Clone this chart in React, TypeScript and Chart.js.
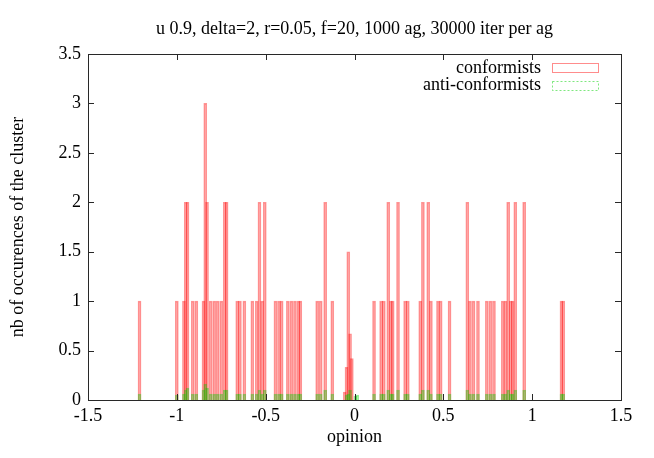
import React, { useEffect, useRef } from "react";
import { Chart, registerables } from "chart.js";

Chart.register(...registerables);

const TITLE = "u 0.9, delta=2, r=0.05, f=20, 1000 ag, 30000 iter per ag";
const X_LABEL = "opinion";
const Y_LABEL = "nb of occurences of the cluster";
const SERIES_NAMES = ["conformists", "anti-conformists"];

const conformistOpinion = [
  -1.21, -1.0, -0.96, -0.95, -0.94, -0.91, -0.89, -0.85, -0.84, -0.83, -0.81, -0.79, -0.77, -0.75,
  -0.73, -0.72, -0.66, -0.645, -0.62, -0.575, -0.55, -0.535, -0.52, -0.505, -0.445, -0.425, -0.41,
  -0.375, -0.355, -0.335, -0.315, -0.305, -0.21, -0.19, -0.165, -0.125, -0.055, -0.045, -0.035,
  -0.025, -0.015, 0.11, 0.15, 0.165, 0.19, 0.205, 0.215, 0.245, 0.285, 0.3, 0.37, 0.385, 0.415,
  0.43, 0.47, 0.485, 0.535, 0.635, 0.65, 0.67, 0.695, 0.745, 0.765, 0.785, 0.835, 0.85, 0.865,
  0.88, 0.89, 0.905, 0.955, 1.165, 1.175,
];
const conformistCount = [
  1, 1, 1, 2, 2, 1, 1, 1, 3, 2, 1, 1, 1, 1,
  2, 2, 1, 1, 1, 1, 1, 2, 1, 2, 1, 1, 1,
  1, 1, 1, 1, 1, 1, 1, 2, 1, 0.08, 0.33, 1.5,
  0.67, 0.42, 1, 1, 1, 2, 1, 1, 2, 1, 1, 1, 2, 2,
  1, 1, 1, 1, 2, 1, 1, 1, 1, 1, 1, 1, 1, 2,
  1, 1, 2, 2, 1, 1,
];

const antiOpinion = [
  -1.21, -1.0, -0.96, -0.95, -0.94, -0.91, -0.89, -0.85, -0.84, -0.83, -0.81, -0.79, -0.77, -0.75,
  -0.73, -0.72, -0.66, -0.645, -0.62, -0.575, -0.55, -0.535, -0.52, -0.505, -0.445, -0.425, -0.41,
  -0.375, -0.355, -0.335, -0.315, -0.305, -0.21, -0.19, -0.165, -0.125, -0.045, -0.035, -0.025,
  0.005, 0.015, 0.11, 0.15, 0.165, 0.19, 0.205, 0.215, 0.245, 0.285, 0.3, 0.37, 0.385, 0.415,
  0.43, 0.47, 0.485, 0.535, 0.635, 0.65, 0.67, 0.695, 0.745, 0.765, 0.785, 0.835, 0.85, 0.865,
  0.88, 0.89, 0.905, 0.955, 1.165, 1.175,
];
const antiCount = [
  0.06, 0.05, 0.06, 0.1, 0.12, 0.06, 0.06, 0.1, 0.16, 0.12, 0.06, 0.06, 0.06, 0.06,
  0.1, 0.1, 0.06, 0.06, 0.06, 0.06, 0.06, 0.1, 0.06, 0.1, 0.06, 0.06, 0.06,
  0.06, 0.06, 0.06, 0.06, 0.06, 0.06, 0.06, 0.1, 0.06, 0.05, 0.06, 0.1,
  0.04, 0.05, 0.06, 0.06, 0.06, 0.1, 0.06, 0.06, 0.1, 0.06, 0.06, 0.06, 0.1, 0.1,
  0.06, 0.06, 0.06, 0.06, 0.1, 0.06, 0.06, 0.06, 0.06, 0.06, 0.06, 0.06, 0.06, 0.1,
  0.06, 0.06, 0.1, 0.1, 0.06, 0.06,
];

const FONT = "'Liberation Serif', 'Times New Roman', serif";
const FS = 18;

const fmt = (v: any) => String(Number(v));

const frameAndLegend = {
  id: "frameAndLegend",
  afterDatasetsDraw(chart: any) {
    const { ctx, chartArea } = chart;
    const { left, right, top, bottom } = chartArea;
    ctx.save();
    ctx.strokeStyle = "rgb(40,40,40)";
    ctx.lineWidth = 1;
    const tl = 6;
    const xs = chart.scales.x;
    const ys = chart.scales.y;
    ctx.beginPath();
    xs.ticks.forEach((t: any) => {
      const px = Math.round(xs.getPixelForValue(t.value)) + 0.5;
      ctx.moveTo(px, bottom);
      ctx.lineTo(px, bottom - tl);
      ctx.moveTo(px, top);
      ctx.lineTo(px, top + tl);
    });
    ys.ticks.forEach((t: any) => {
      const py = Math.round(ys.getPixelForValue(t.value)) + 0.5;
      ctx.moveTo(left, py);
      ctx.lineTo(left + tl, py);
      ctx.moveTo(right, py);
      ctx.lineTo(right - tl, py);
    });
    ctx.stroke();
    ctx.strokeRect(Math.round(left) + 0.5, Math.round(top) + 0.5, Math.round(right - left), Math.round(bottom - top));

    // legend (gnuplot style: text then sample)
    ctx.font = `${FS}px ${FONT}`;
    ctx.fillStyle = "#000";
    ctx.textAlign = "right";
    ctx.textBaseline = "middle";
    const textRight = right - 80;
    const boxL = right - 68.5;
    const boxW = 46;
    ctx.fillText(SERIES_NAMES[0], textRight, top + 14);
    ctx.fillText(SERIES_NAMES[1], textRight, top + 31.5);
    ctx.strokeStyle = "rgba(255,0,0,0.45)";
    ctx.strokeRect(boxL, top + 9.5, boxW, 9);
    ctx.setLineDash([2, 2]);
    ctx.strokeStyle = "rgba(0,210,0,0.5)";
    ctx.strokeRect(boxL, top + 27.5, boxW, 9);
    ctx.restore();
  },
};

export default function App() {
  const ref = useRef<HTMLCanvasElement>(null);
  useEffect(() => {
    if (!ref.current) return;
    const chart = new Chart(ref.current, {
      type: "bar",
      data: {
        datasets: [
          {
            label: SERIES_NAMES[1],
            data: antiOpinion.map((x, i) => ({ x, y: antiCount[i] })),
            backgroundColor: "rgba(0,220,0,0.12)",
            borderColor: "rgba(0,210,0,0.4)",
            borderWidth: 1,
            barThickness: 3,
            grouped: false,
            order: 0,
          } as any,
          {
            label: SERIES_NAMES[0],
            data: conformistOpinion.map((x, i) => ({ x, y: conformistCount[i] })),
            backgroundColor: "rgba(255,0,0,0.12)",
            borderColor: "rgba(255,0,0,0.42)",
            borderWidth: 1,
            barThickness: 3,
            grouped: false,
            order: 1,
          } as any,
        ],
      },
      options: {
        responsive: false,
        animation: false,
        layout: { padding: { left: 0, right: 33, top: 0, bottom: 0 } },
        plugins: {
          legend: { display: false },
          tooltip: { enabled: false },
          title: {
            display: true,
            text: TITLE,
            fullSize: false,
            color: "#000",
            font: { size: FS, family: FONT, weight: "normal" },
            padding: { top: 18, bottom: 14.4 },
          },
        },
        scales: {
          x: {
            type: "linear",
            min: -1.5,
            max: 1.5,
            offset: false,
            grid: { display: false, drawTicks: false },
            border: { display: false },
            ticks: {
              stepSize: 0.5,
              color: "#000",
              font: { size: FS, family: FONT },
              padding: 5,
              maxRotation: 0,
              callback: fmt,
            },
            title: {
              display: true,
              text: X_LABEL,
              color: "#000",
              font: { size: FS, family: FONT },
              padding: { top: 0, bottom: 10 },
            },
            afterFit: (s: any) => {
              s.height = 58;
            },
          },
          y: {
            min: 0,
            max: 3.5,
            grid: { display: false, drawTicks: false },
            border: { display: false },
            ticks: {
              stepSize: 0.5,
              color: "#000",
              font: { size: FS, family: FONT },
              padding: 7,
              callback: fmt,
            },
            title: {
              display: true,
              text: Y_LABEL,
              color: "#000",
              font: { size: FS, family: FONT },
              padding: { top: 7, bottom: 0 },
            },
            afterFit: (s: any) => {
              s.width = 88;
            },
          },
        },
      } as any,
      plugins: [frameAndLegend],
    });
    return () => chart.destroy();
  }, []);
  return (
    <div style={{ position: "absolute", left: 0, top: 0, width: 654, height: 458, background: "#fff" }}>
      <canvas ref={ref} width={654} height={458} style={{ display: "block" }} />
    </div>
  );
}
